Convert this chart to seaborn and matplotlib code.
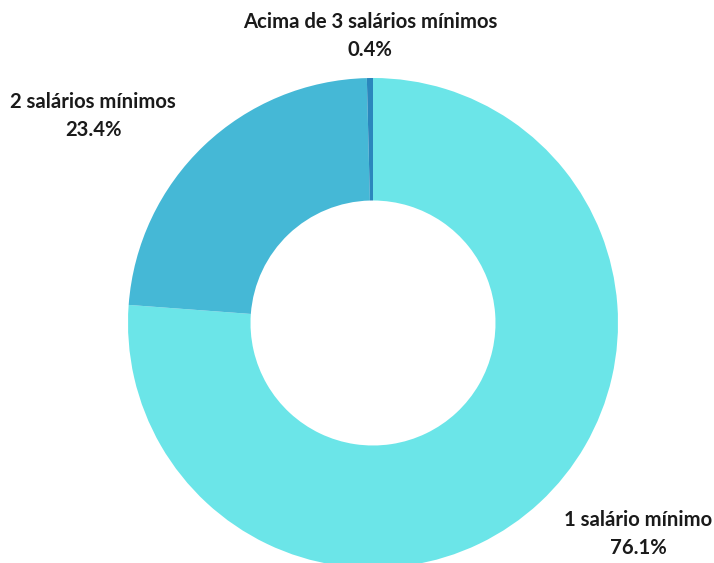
import matplotlib
matplotlib.use("Agg")
import matplotlib.pyplot as plt
import seaborn as sns

categories = ["1 salário mínimo", "2 salários mínimos", "Acima de 3 salários mínimos"]
shares = [76.1, 23.4, 0.4]
colors = ["#6BE5E8", "#45B8D6", "#2A87BD"]

sns.set_theme(style="white")
plt.rcParams["font.family"] = ["Lato", "DejaVu Sans"]

fig = plt.figure(figsize=(7.14, 5.63), dpi=100)
ax = fig.add_axes([0, 0, 1, 1])

cx, cy, r = 373, 240, 245
ax.pie(shares, colors=sns.color_palette(colors), startangle=90, counterclock=False,
       center=(cx, cy), radius=r, frame=True,
       wedgeprops=dict(width=r * 0.5, linewidth=0))
ax.set_xlim(0, 714)
ax.set_ylim(0, 563)
ax.set_aspect("equal")
ax.axis("off")

label_pos = {
    "1 salário mínimo": (638, 43),
    "2 salários mínimos": (93, 461),
    "Acima de 3 salários mínimos": (370, 541),
}
for name, val in zip(categories, shares):
    x, y = label_pos[name]
    ax.text(x, y, name, ha="center", va="center", fontsize=14.6,
            fontweight="bold", color="#1a1a1a")
    ax.text(x, y - 28, f"{val:.1f}%", ha="center", va="center", fontsize=14.6,
            fontweight="bold", color="#1a1a1a")

fig.savefig("out.png", dpi=100)
